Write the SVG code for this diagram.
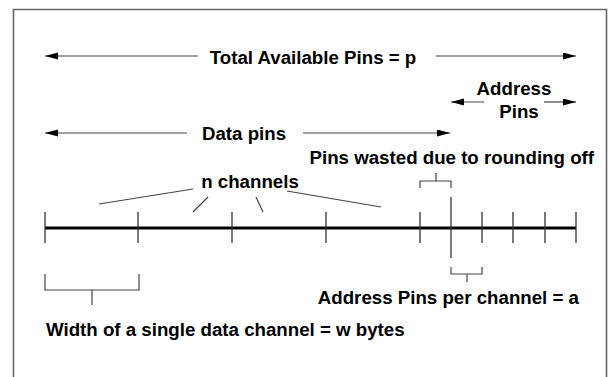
<svg xmlns="http://www.w3.org/2000/svg" width="610" height="377" viewBox="0 0 610 377">
<style>
.t{font-family:"Liberation Sans",Arial,Helvetica,sans-serif;font-weight:bold;font-size:18.7px;fill:#000}
.ln{stroke:#444;stroke-width:1.2;fill:none}
.tk{stroke:#333;stroke-width:1.3;fill:none}
.fr{stroke:#666;stroke-width:1.6;fill:none}
</style>
<defs>
<marker id="ah" markerUnits="userSpaceOnUse" markerWidth="14" markerHeight="8" refX="13" refY="3.5" orient="auto-start-reverse">
<path d="M0,0 L13,3.5 L0,7 z" fill="#000"/>
</marker>
</defs>
<rect x="0" y="0" width="610" height="377" fill="#fff"/>
<path class="fr" d="M13.5,377 V9.5 H606.5 V377"/>

<g id="total-label"><text class="t" x="313" y="64" text-anchor="middle">Total Available Pins = p</text></g>
<g id="address-label"><text class="t" x="514" y="95" text-anchor="middle">Address</text><text class="t" x="519" y="118" text-anchor="middle">Pins</text></g>
<g id="data-label"><text class="t" x="244" y="140" text-anchor="middle">Data pins</text></g>
<g id="wasted-label"><text class="t" x="594" y="164" text-anchor="end">Pins wasted due to rounding off</text></g>
<g id="channels-label"><text class="t" x="250" y="188" text-anchor="middle">n channels</text></g>
<g id="addr-per-channel-label"><text class="t" x="579" y="304" text-anchor="end">Address Pins per channel = a</text></g>
<g id="width-label"><text class="t" x="46" y="336">Width of a single data channel = w bytes</text></g>

<g id="pin-bus">
<line x1="45" y1="228" x2="576" y2="228" stroke="#000" stroke-width="3"/>
<path class="tk" d="M45,212V243 M138,212V243 M232,212V243 M326,212V243 M420,212V243 M482,212V243 M513,212V243 M545,212V243 M576,212V243"/>
<path class="tk" d="M451,197V258"/>
</g>

<g id="connectors">
<line class="ln" x1="198" y1="56" x2="45" y2="56" marker-end="url(#ah)"/>
<line class="ln" x1="436" y1="56" x2="576" y2="56" marker-end="url(#ah)"/>
<line class="ln" x1="484" y1="102" x2="451" y2="102" marker-end="url(#ah)"/>
<line class="ln" x1="544" y1="102" x2="576" y2="102" marker-end="url(#ah)"/>
<line class="ln" x1="187" y1="133" x2="45" y2="133" marker-end="url(#ah)"/>
<line class="ln" x1="303" y1="133" x2="450" y2="133" marker-end="url(#ah)"/>
<line class="ln" x1="99" y1="204" x2="193" y2="189"/>
<line class="ln" x1="193" y1="212" x2="208" y2="197"/>
<line class="ln" x1="256" y1="197" x2="263" y2="212"/>
<line class="ln" x1="287" y1="191" x2="381" y2="207"/>
<path class="ln" d="M420,188V181H451V188 M436,181V173"/>
<path class="ln" d="M451,267V274H482V267 M467,274V282"/>
<path class="ln" d="M45,274V290H139V274 M92,290V305"/>
</g>
</svg>
